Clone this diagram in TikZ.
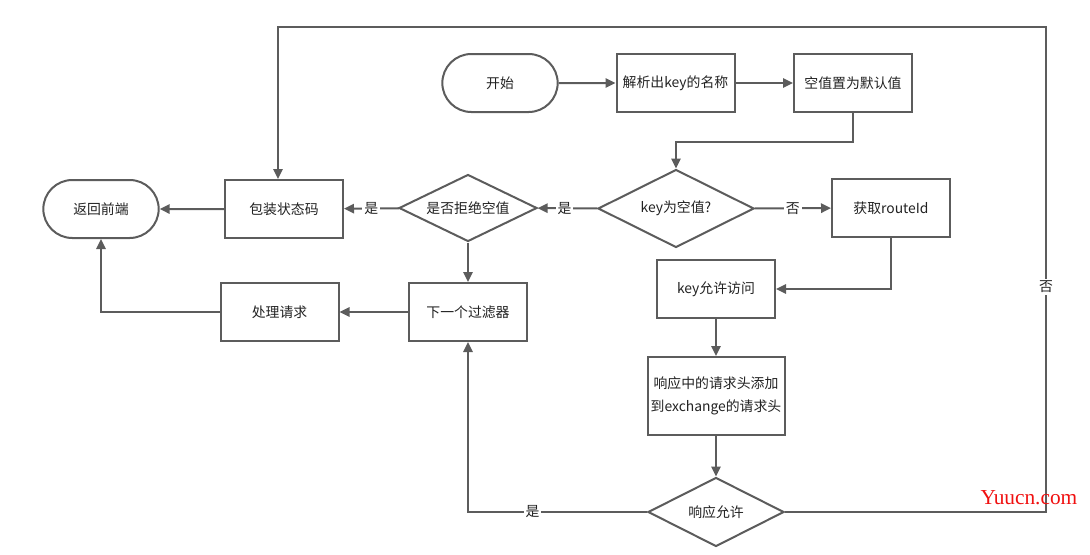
\documentclass[tikz,border=0pt]{standalone}
\usepackage{fontspec}
\setmainfont{Noto Sans CJK SC}
\newfontfamily\wmfont{Liberation Serif}
\usetikzlibrary{arrows.meta,shapes.geometric,shapes.misc}
\definecolor{linegray}{HTML}{5C5C5C}
\definecolor{txtgray}{HTML}{222222}
\definecolor{wmred}{HTML}{F01010}
\begin{document}
\begin{tikzpicture}[x=0.75pt,y=-0.75pt,
  font=\fontsize{10.4}{12}\selectfont, text=txtgray,
  base/.style={draw=linegray, line width=1.5pt, fill=white, inner sep=1pt, align=center},
  proc/.style={base, rectangle, minimum width=88.5pt, minimum height=43.5pt},
  term/.style={base, rounded rectangle, minimum width=88.5pt, minimum height=43.5pt},
  decision/.style={base, diamond, aspect=2, inner sep=0pt},
  arr/.style={draw=linegray, line width=1.5pt, -{Triangle[length=7.5pt,width=7pt]}},
  lbl/.style={fill=white, inner sep=1.5pt, text=txtgray}]
\useasboundingbox (0,0) rectangle (1090,554);

\node[term] (start) at (500,83) {开始};
\node[proc] (parse) at (675.5,83) {解析出key的名称};
\node[proc] (dflt) at (853,83) {空值置为默认值};
\node[decision, minimum width=117pt, minimum height=58.5pt] (isnull) at (676,208.5) {key为空值?};
\node[proc] (route) at (891,208) {获取routeId};
\node[proc] (allow) at (716,289) {key允许访问};
\node[proc, minimum width=102.75pt, minimum height=58.5pt] (addhdr) at (716,396) {响应中的请求头添加\\[5pt]到exchange的请求头};
\node[decision, minimum width=102pt, minimum height=51.75pt] (resp) at (716,512) {响应允许};
\node[decision, minimum width=103.5pt, minimum height=50.25pt] (reject) at (468,208) {是否拒绝空值};
\node[proc] (wrap) at (284,209) {包装状态码};
\node[term] (ret) at (101,209) {返回前端};
\node[proc] (next) at (468,312) {下一个过滤器};
\node[proc] (handle) at (279.5,312) {处理请求};

\coordinate (r1) at (1046,512);
\coordinate (r2) at (1046,27);

\draw[arr] (start) -- (parse);
\draw[arr] (parse) -- (dflt);
\draw[arr] (dflt.south) -- ++(0,29) -| (isnull.north);
\draw[arr] (isnull) -- node[lbl]{否} (route);
\draw[arr] (route.south) |- (allow.east);
\draw[arr] (allow) -- (addhdr);
\draw[arr] (addhdr) -- (resp);
\draw[arr] (resp.east) -- (r1) -- (r2) -| ([xshift=-4.5pt]wrap.north);
\node[lbl] (nolbl) at (1046,287) {否};
\draw[arr] (resp.west) -| node[lbl, pos=0.32]{是} (next.south);
\draw[arr] (isnull) -- node[lbl, pos=0.55]{是} (reject);
\draw[arr] (reject) -- node[lbl]{是} (wrap);
\draw[arr] (wrap) -- (ret);
\draw[arr] (reject) -- (next);
\draw[arr] (next) -- (handle);
\draw[arr] (handle.west) -| (ret.south);

\node[font=\wmfont\fontsize{16}{18}\selectfont, text=wmred] (wm) at (1029,498) {Yuucn.com};
\end{tikzpicture}
\end{document}
